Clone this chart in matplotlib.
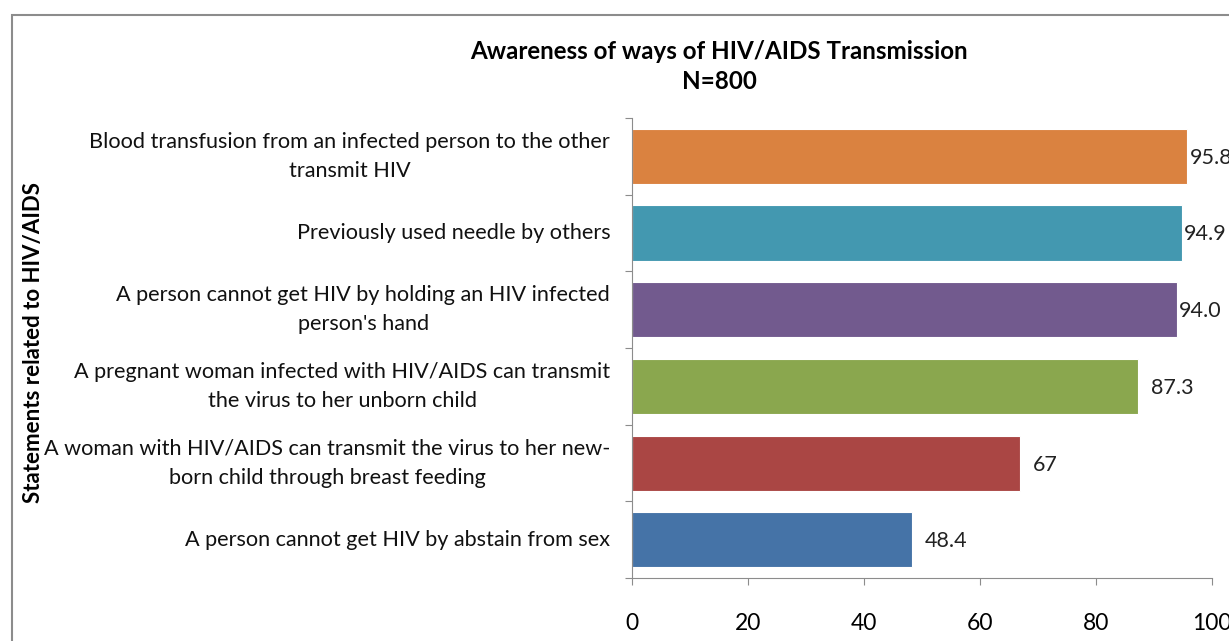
import matplotlib.pyplot as plt
from matplotlib.patches import Rectangle

plt.rcParams['font.family'] = ['Lato', 'DejaVu Sans']

# DATA (bottom to top)
statements = [
    "A person cannot get HIV by abstain from sex",
    "A woman with HIV/AIDS can transmit the virus to her new-\nborn child through breast feeding",
    "A pregnant woman infected with HIV/AIDS can transmit\nthe virus to her unborn child",
    "A person cannot get HIV by holding an HIV infected\nperson's hand",
    "Previously used needle by others",
    "Blood transfusion from an infected person to the other\ntransmit HIV",
]
values = [48.4, 67, 87.3, 94.0, 94.9, 95.8]
value_labels = ["48.4", "67", "87.3", "94.0", "94.9", "95.8"]
colors = ["#4573A7", "#AA4644", "#8AA74E", "#725A8E", "#4398B0", "#DA8240"]
x_ticks = [0, 20, 40, 60, 80, 100]

fig = plt.figure(figsize=(12.29, 6.41), dpi=100)
ax = fig.add_axes([0.514, 0.098, 0.472, 0.718])

# outer chart frame
fig.patches.append(Rectangle((12 / 1229, -0.1), 1.2, 1 - 15 / 641 + 0.1,
                             transform=fig.transFigure, fill=False,
                             edgecolor="#8c8c8c", linewidth=1.5))

pos = list(range(len(values)))
ax.barh(pos, values, height=0.72, color=colors, edgecolor="white", linewidth=0.8)

# labels near the right edge get squeezed in, like excel does
for p, v, lab in zip(pos, values, value_labels):
    off = 1.5 if v > 90 else 9
    ax.annotate(lab, (v, p), xytext=(off, -1), textcoords="offset points",
                ha="left", va="center", fontsize=15.5, color="#222222")

for p, s in zip(pos, statements):
    ax.text(-0.037, p, s, transform=ax.get_yaxis_transform(), ha="right",
            va="center", ma="center", fontsize=15.6, color="#111111",
            linespacing=1.55)

ax.set_xlim(0, 100)
ax.set_ylim(-0.5, len(values) - 0.5)
ax.set_xticks(x_ticks)
ax.set_xticklabels([str(t) for t in x_ticks], fontsize=16.5)
ax.tick_params(axis="x", direction="out", length=5, pad=20, color="#8c8c8c")
ax.set_yticks([p - 0.5 for p in pos] + [len(values) - 0.5])
ax.set_yticklabels([])
ax.tick_params(axis="y", direction="out", length=5, color="#8c8c8c")

for side in ["top", "right"]:
    ax.spines[side].set_visible(False)
for side in ["left", "bottom"]:
    ax.spines[side].set_color("#8c8c8c")

fig.text(0.585, 0.896, "Awareness of ways of HIV/AIDS Transmission\nN=800",
         ha="center", va="center", fontsize=17.4, fontweight="bold",
         linespacing=1.4)
fig.text(0.027, 0.465, "Statements related to HIV/AIDS", rotation=90,
         ha="center", va="center", fontsize=16, fontweight="bold")

fig.savefig("out.png", dpi=100)
